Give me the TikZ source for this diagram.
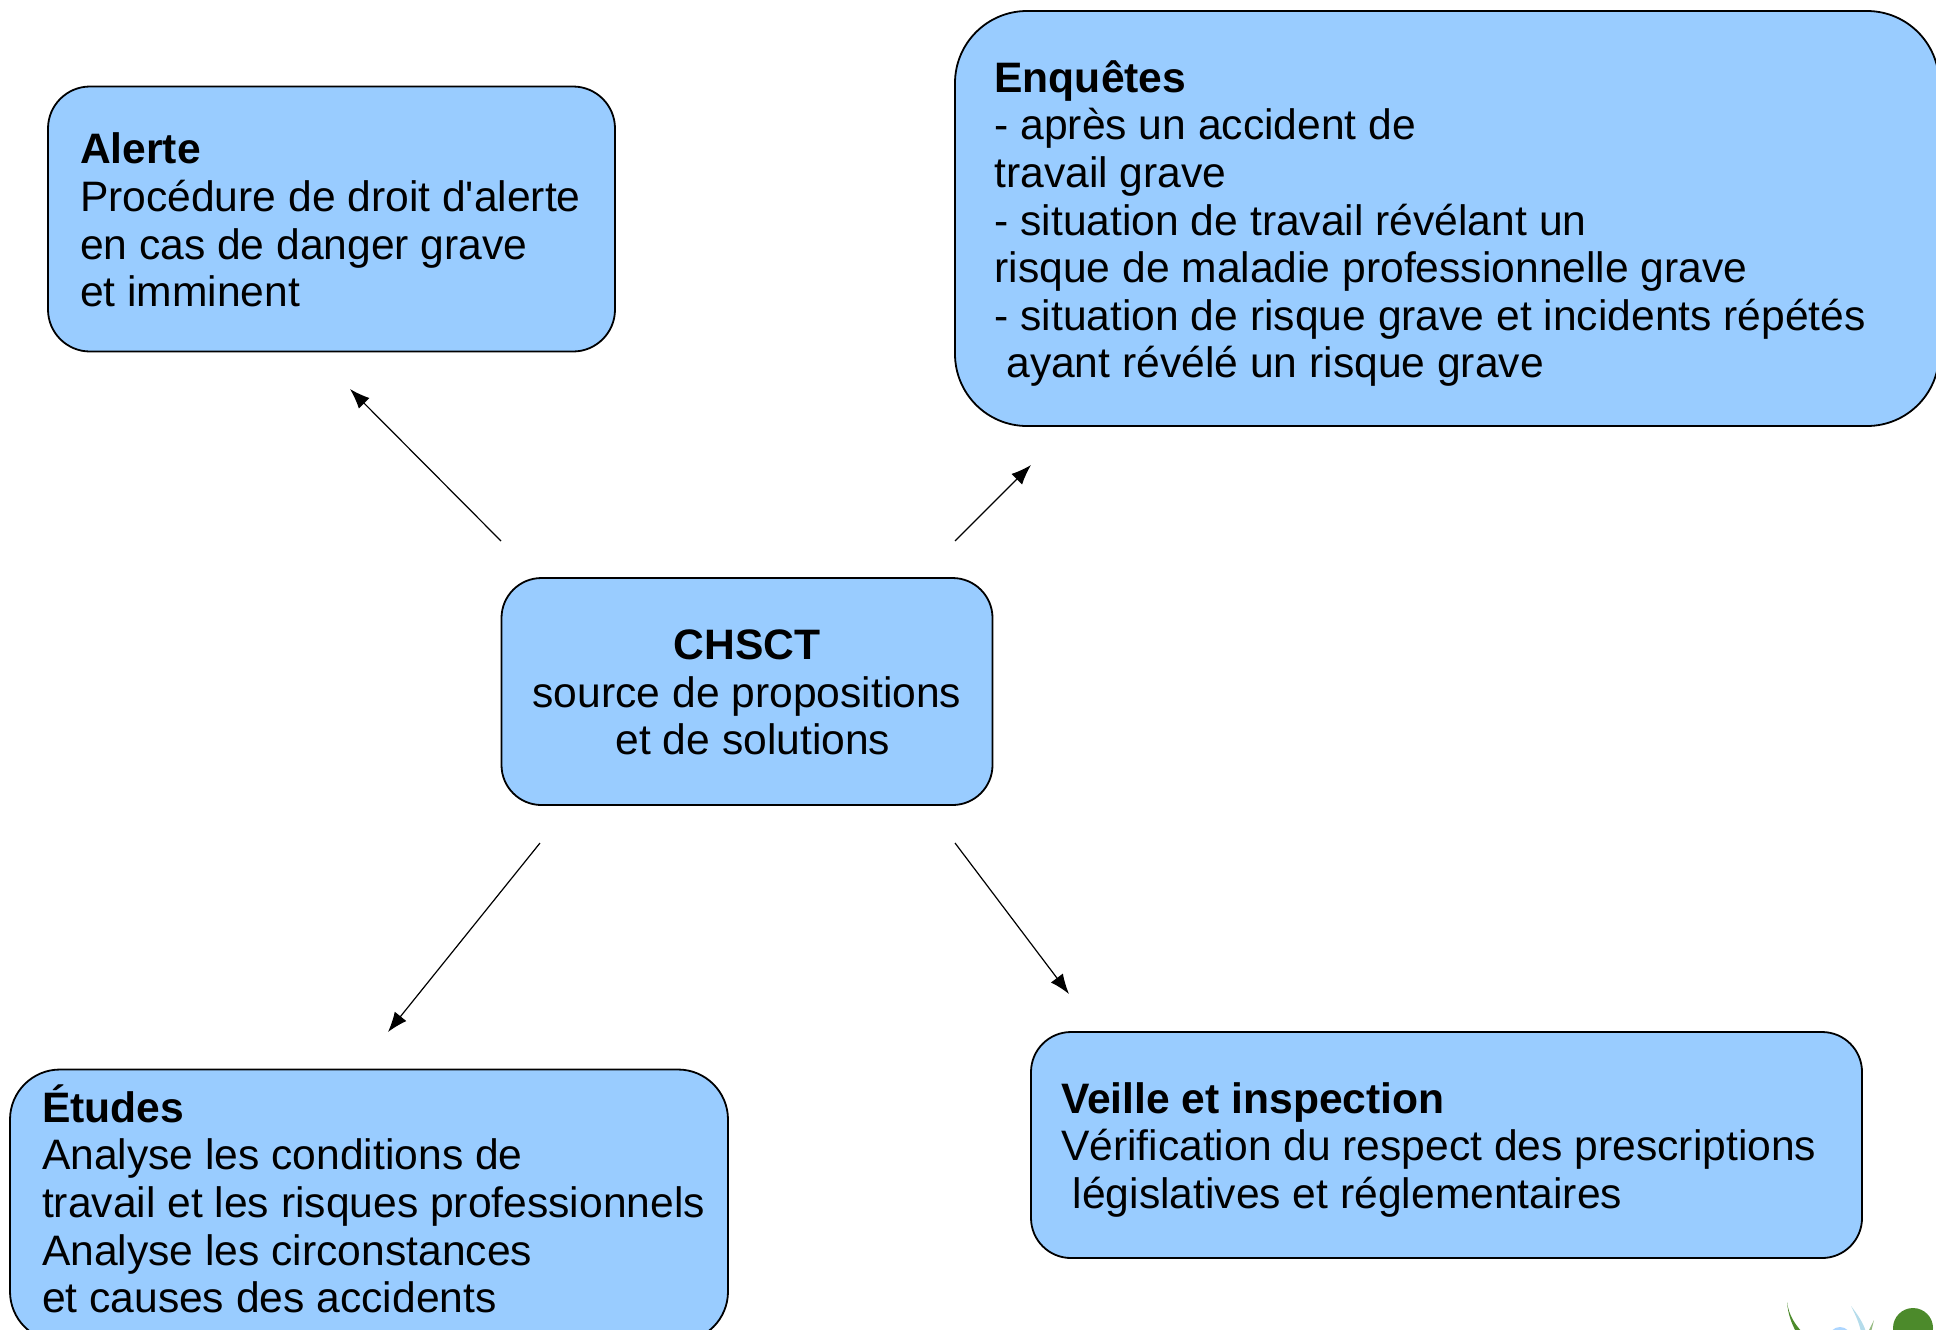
\documentclass[tikz,border=0pt]{standalone}
\usepackage{fontspec}
\setmainfont{Liberation Sans}
\newfontfamily\labelfont{Liberation Sans}
\usetikzlibrary{arrows.meta}
\definecolor{boxblue}{HTML}{99CCFF}
\definecolor{leafgreen}{HTML}{4C8A2B}
\definecolor{wisp}{HTML}{B5DCEB}
\tikzset{
  boxnode/.style={draw=black,line width=0.9pt,fill=boxblue,inner sep=0pt,outer sep=0pt,rounded corners=#1},
  label/.style={anchor=north west,align=left,inner sep=0pt,outer sep=0pt,text=black,font=\labelfont\fontsize{21.3pt}{23.8pt}\selectfont},
  centerlabel/.style={anchor=center,align=center,inner sep=0pt,outer sep=0pt,text=black,font=\labelfont\fontsize{21.3pt}{23.8pt}\selectfont},
  link/.style={draw=black,line width=0.6pt,-{Latex[length=10pt,width=7.5pt]}},
}
\begin{document}
\begin{tikzpicture}[x=0.5pt,y=-0.5pt]
\useasboundingbox (0,0) rectangle (1936,1329);
\fill[white] (0,0) rectangle (1936,1329);
% logo fragment
\begin{scope}
\clip (0,0) rectangle (1936,1329);
\fill[leafgreen] (1787,1302) .. controls (1789,1316) and (1795,1324) .. (1802,1332) -- (1796,1332) .. controls (1791,1322) and (1788,1314) .. (1787,1302) -- cycle;
\fill[wisp] (1851,1306) .. controls (1857,1314) and (1863,1322) .. (1866,1332) -- (1861,1332) .. controls (1859,1322) and (1855,1314) .. (1851,1306) -- cycle;
\fill[boxblue!80!white] (1840,1338) circle (11);
\fill[leafgreen!60!white] (1874,1320) -- (1871,1332) -- (1868,1332) -- cycle;
\fill[leafgreen] (1913,1328) circle (20);
\end{scope}
% boxes
\node[boxnode=21pt,minimum width=283.5pt,minimum height=132.5pt] (alerte) at (331.5,219) {};
\node[boxnode=36pt,minimum width=492pt,minimum height=207.5pt] (enquetes) at (1447,218.5) {};
\node[boxnode=20pt,minimum width=245.5pt,minimum height=113.5pt] (chsct) at (747,691.5) {};
\node[boxnode=25pt,minimum width=359pt,minimum height=136pt] (etudes) at (369,1205.5) {};
\node[boxnode=20pt,minimum width=415.5pt,minimum height=113pt] (veille) at (1446.5,1145) {};
% texts
\node[label] (talerte) at (80,133) {\textbf{Alerte}\\Procédure de droit d'alerte\\en cas de danger grave\\et imminent};
\node[label] (tenq) at (994.5,60.5) {\textbf{Enquêtes}\\- après un accident de\\travail grave\\- situation de travail révélant un\\risque de maladie professionnelle grave\\- situation de risque grave et incidents répétés\\\hspace*{5.9pt}ayant révélé un risque grave};
\node[centerlabel] (tchsct) at (747,692.5) {\textbf{CHSCT}\\source de propositions\\\hspace*{5.9pt}et de solutions};
\node[label] (tetudes) at (42,1084.5) {\textbf{Études}\\Analyse les conditions de\\travail et les risques professionnels\\Analyse les circonstances\\et causes des accidents};
\node[label] (tveille) at (1061,1082.5) {\textbf{Veille et inspection}\\Vérification du respect des prescriptions\\\hspace*{5.9pt}législatives et réglementaires};
% connector ends
\coordinate (a1) at (501,541);
\coordinate (a2) at (350,389);
\coordinate (b1) at (955,541);
\coordinate (b2) at (1031,465);
\coordinate (c1) at (540,843);
\coordinate (c2) at (388,1032);
\coordinate (d1) at (955,843);
\coordinate (d2) at (1069,994);
\draw[link] (a1) -- (a2);
\draw[link] (b1) -- (b2);
\draw[link] (c1) -- (c2);
\draw[link] (d1) -- (d2);
\end{tikzpicture}
\end{document}
